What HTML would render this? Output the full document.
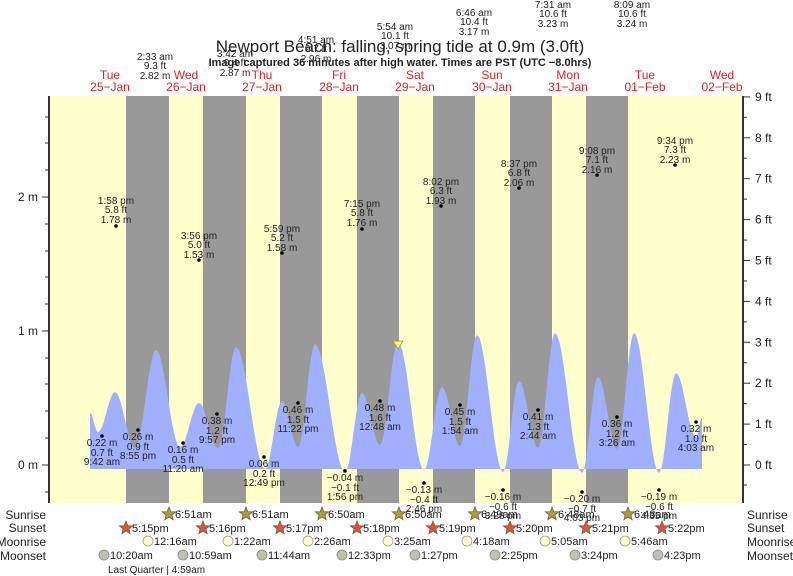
<!DOCTYPE html>
<html><head><meta charset="utf-8"><style>
body{margin:0;background:#fff}
svg{display:block;font-family:"Liberation Sans",sans-serif}
.s{font-size:10px;fill:#222;text-anchor:middle}
.d{font-size:12px;fill:#e02020;text-anchor:middle}
.r{font-size:12px;fill:#222}
.a{font-size:12px;fill:#222}
</style></head><body>
<svg id="c" width="793" height="576" viewBox="0 0 793 576" xmlns="http://www.w3.org/2000/svg">
<rect x="49" y="96" width="694" height="407" fill="#ffffcc"/>
<g fill="#999">
<rect x="126" y="96" width="43" height="407"/><rect x="203" y="96" width="43" height="407"/>
<rect x="280" y="96" width="42" height="407"/><rect x="357" y="96" width="42" height="407"/>
<rect x="433" y="96" width="42" height="407"/><rect x="510" y="96" width="42" height="407"/>
<rect x="586" y="96" width="42" height="407"/>
</g>
<path id="tide" fill="#a0b0ff" d=""/>
<polygon points="393,341 403,341 398,349" fill="#ffff40" stroke="#888" stroke-width="0.7"/>
<g stroke="#333" stroke-width="2"><line x1="49" y1="96" x2="49" y2="503"/><line x1="743" y1="96" x2="743" y2="503"/></g>
<g stroke="#333" stroke-width="1">
<line x1="42" y1="465" x2="49" y2="465"/><line x1="42" y1="331" x2="49" y2="331"/><line x1="42" y1="197" x2="49" y2="197"/>
<line x1="45" y1="492" x2="49" y2="492"/><line x1="45" y1="438" x2="49" y2="438"/><line x1="45" y1="411" x2="49" y2="411"/><line x1="45" y1="384" x2="49" y2="384"/><line x1="45" y1="358" x2="49" y2="358"/><line x1="45" y1="304" x2="49" y2="304"/><line x1="45" y1="277" x2="49" y2="277"/><line x1="45" y1="251" x2="49" y2="251"/><line x1="45" y1="224" x2="49" y2="224"/><line x1="45" y1="170" x2="49" y2="170"/><line x1="45" y1="143" x2="49" y2="143"/><line x1="45" y1="117" x2="49" y2="117"/>
</g>
<g id="rt" stroke="#333" stroke-width="1"></g>
<g class="a" text-anchor="end"><text x="38" y="469">0 m</text><text x="38" y="335">1 m</text><text x="38" y="201">2 m</text></g>
<g id="rl" class="a"></g>
<text x="400" y="52" text-anchor="middle" font-size="17" fill="#222">Newport Beach: falling, spring tide at 0.9m (3.0ft)</text>
<text x="400" y="66" text-anchor="middle" font-size="11" font-weight="bold" fill="#222">Image captured 36 minutes after high water. Times are PST (UTC −8.0hrs)</text>
<g class="d">
<text x="110" y="79">Tue</text><text x="110" y="91">25−Jan</text>
<text x="186" y="79">Wed</text><text x="186" y="91">26−Jan</text>
<text x="262" y="79">Thu</text><text x="262" y="91">27−Jan</text>
<text x="339" y="79">Fri</text><text x="339" y="91">28−Jan</text>
<text x="415" y="79">Sat</text><text x="415" y="91">29−Jan</text>
<text x="492" y="79">Sun</text><text x="492" y="91">30−Jan</text>
<text x="568" y="79">Mon</text><text x="568" y="91">31−Jan</text>
<text x="645" y="79">Tue</text><text x="645" y="91">01−Feb</text>
<text x="722" y="79">Wed</text><text x="722" y="91">02−Feb</text>
</g>
<g id="lab"></g>
<g class="r" text-anchor="end"><text x="46" y="519">Sunrise</text><text x="46" y="532">Sunset</text><text x="46" y="546">Moonrise</text><text x="46" y="560">Moonset</text></g>
<g class="r"><text x="747" y="519">Sunrise</text><text x="747" y="532">Sunset</text><text x="747" y="546">Moonrise</text><text x="747" y="560">Moonset</text></g>
<g id="ev"></g>
<text x="108" y="573" font-size="10" fill="#222">Last Quarter | 4:59am</text>
</svg>
<script>
var NS="http://www.w3.org/2000/svg";
function el(p,t,a,tx){var e=document.createElementNS(NS,t);for(var k in a)e.setAttribute(k,a[k]);if(tx!=null)e.textContent=tx;document.getElementById(p).appendChild(e);return e;}
var P=[[90,413],[98,432],[115,392],[135,448],[156,350],[180,447],[199,403],[218,448],[236,347],[265,469],[282,401],[298,447],[315,344],[345,472],[362,393],[380,445],[398,342],[424,470],[442,387],[460,446],[477,335],[503,472],[519,381],[538,448],[555,333],[582,473],[598,377],[617,449],[634,333],[659,473],[676,373],[696,437],[702,418]];
var d="M90,469 L90,413";
for(var i=0;i<P.length-1;i++){var a=P[i],b=P[i+1];for(var j=1;j<=12;j++){var t=j/12,x=a[0]+(b[0]-a[0])*t,y=a[1]+(b[1]-a[1])*(1-Math.cos(Math.PI*t))/2;d+=" L"+x.toFixed(1)+","+y.toFixed(1);}}
d+=" L702,469 Z";document.getElementById("tide").setAttribute("d",d);
for(var f=0;f<=9;f++){var y=465-f*40.9;el("rt","line",{x1:743,y1:y,x2:750,y2:y});el("rl","text",{x:755,y:y+4},f+" ft");if(f<9){el("rt","line",{x1:743,y1:y-20.45,x2:747,y2:y-20.45});}}
el("rt","line",{x1:743,y1:485,x2:747,y2:485});
var L=[[155,60,"2:33 am","9.3 ft","2.82 m",null],[235,57,"3:42 am","9.4 ft","2.87 m",null],[316,43,"4:51 am","9.7 ft","2.96 m",null],[395,30,"5:54 am","10.1 ft","3.07 m",null],[474,16,"6:46 am","10.4 ft","3.17 m",null],[553,8,"7:31 am","10.6 ft","3.23 m",null],[632,8,"8:09 am","10.6 ft","3.24 m",null],
[116,204,"1:58 pm","5.8 ft","1.78 m",226],[199,239,"3:56 pm","5.0 ft","1.53 m",260],[282,232,"5:59 pm","5.2 ft","1.58 m",253],[362,207,"7:15 pm","5.8 ft","1.76 m",229],[441,185,"8:02 pm","6.3 ft","1.93 m",206],[519,167,"8:37 pm","6.8 ft","2.06 m",188],[597,154,"9:08 pm","7.1 ft","2.16 m",175],[675,144,"9:34 pm","7.3 ft","2.23 m",165]];
L.forEach(function(l){el("lab","text",{x:l[0],y:l[1],"class":"s"},l[2]);el("lab","text",{x:l[0],y:l[1]+9,"class":"s"},l[3]);el("lab","text",{x:l[0],y:l[1]+19,"class":"s"},l[4]);if(l[5])el("lab","circle",{cx:l[0],cy:l[5],r:1.8,fill:"#000"});});
var W=[[102,436,"0.22 m","0.7 ft","9:42 am"],[138,430,"0.26 m","0.9 ft","8:55 pm"],[183,443,"0.16 m","0.5 ft","11:20 am"],[217,414,"0.38 m","1.2 ft","9:57 pm"],[264,457,"0.06 m","0.2 ft","12:49 pm"],[298,403,"0.46 m","1.5 ft","11:22 pm"],[345,471,"−0.04 m","−0.1 ft","1:56 pm"],[380,401,"0.48 m","1.6 ft","12:48 am"],[424,483,"−0.13 m","−0.4 ft","2:46 pm"],[460,405,"0.45 m","1.5 ft","1:54 am"],[503,490,"−0.16 m","−0.6 ft","3:28 pm"],[538,410,"0.41 m","1.3 ft","2:44 am"],[582,492,"−0.20 m","−0.7 ft","4:03 pm"],[617,417,"0.36 m","1.2 ft","3:26 am"],[659,490,"−0.19 m","−0.6 ft","4:35 pm"],[696,422,"0.32 m","1.0 ft","4:03 am"]];
W.forEach(function(l){el("lab","circle",{cx:l[0],cy:l[1],r:1.8,fill:"#000"});el("lab","text",{x:l[0],y:l[1]+10,"class":"s"},l[2]);el("lab","text",{x:l[0],y:l[1]+20,"class":"s"},l[3]);el("lab","text",{x:l[0],y:l[1]+29,"class":"s"},l[4]);});
function star(cx,cy,fill){var p=[];for(var i=0;i<10;i++){var r=i%2?3:7,a=-Math.PI/2+i*Math.PI/5;p.push((cx+r*Math.cos(a)).toFixed(1)+","+(cy+r*Math.sin(a)).toFixed(1));}el("ev","polygon",{points:p.join(" "),fill:fill,stroke:"#665","stroke-width":0.8});}
[[169,"6:51am"],[246,"6:51am"],[322,"6:50am"],[399,"6:50am"],[475,"6:49am"],[552,"6:48am"],[628,"6:48am"]].forEach(function(s){star(s[0],514,"#a8a030");el("ev","text",{x:s[0]+6,y:518,"font-size":11,fill:"#222"},s[1]);});
[[126,"5:15pm"],[203,"5:16pm"],[280,"5:17pm"],[357,"5:18pm"],[433,"5:19pm"],[510,"5:20pm"],[586,"5:21pm"],[662,"5:22pm"]].forEach(function(s){star(s[0],528,"#e05040");el("ev","text",{x:s[0]+6,y:532,"font-size":11,fill:"#222"},s[1]);});
[[148,"12:16am"],[228,"1:22am"],[308,"2:26am"],[388,"3:25am"],[467,"4:18am"],[545,"5:05am"],[625,"5:46am"]].forEach(function(s){el("ev","circle",{cx:s[0],cy:541,r:5,fill:"#ffffcc",stroke:"#999","stroke-width":0.8});el("ev","text",{x:s[0]+6,y:545,"font-size":11,fill:"#222"},s[1]);});
[[104,"10:20am"],[183,"10:59am"],[262,"11:44am"],[342,"12:33pm"],[415,"1:27pm"],[495,"2:25pm"],[575,"3:24pm"],[658,"4:23pm"]].forEach(function(s){el("ev","circle",{cx:s[0],cy:555,r:5,fill:"#c0c0b0",stroke:"#888","stroke-width":0.8});el("ev","text",{x:s[0]+6,y:559,"font-size":11,fill:"#222"},s[1]);});
</script>
</body></html>
